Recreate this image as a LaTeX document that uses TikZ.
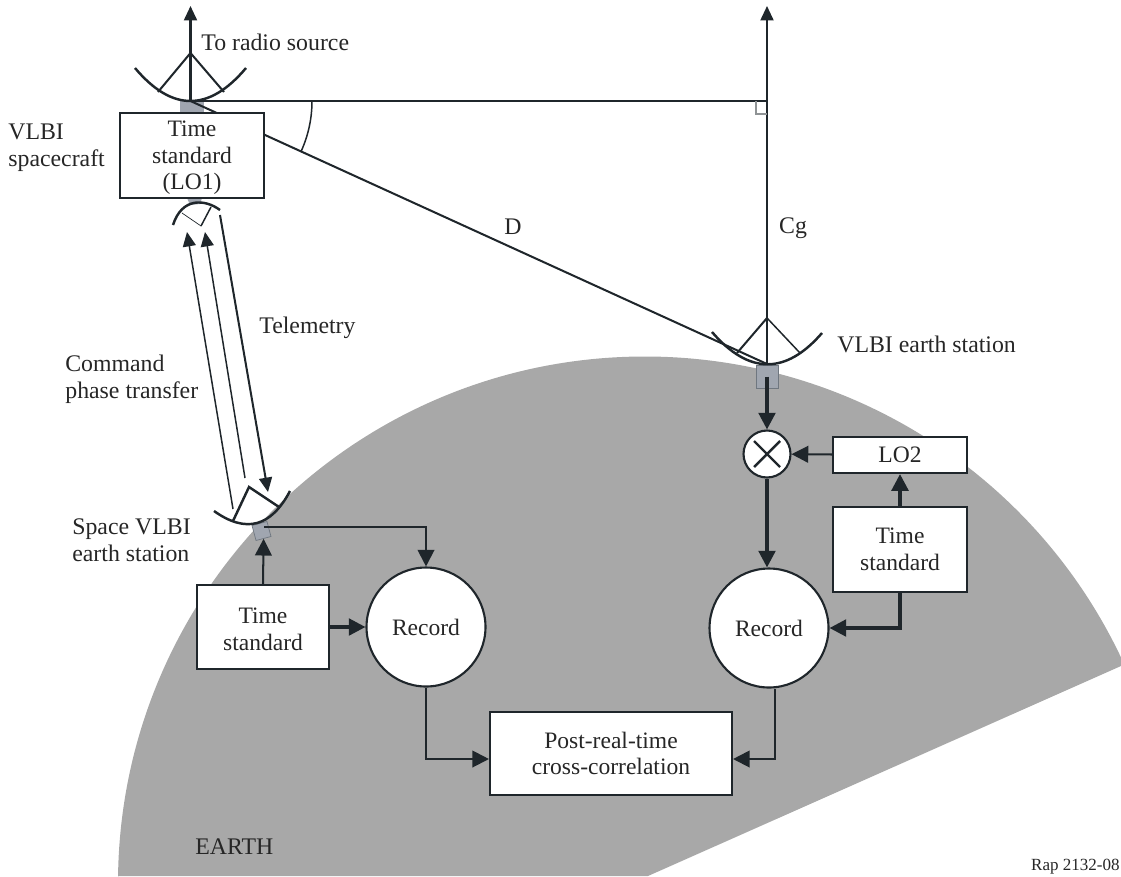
\documentclass[tikz,border=0pt]{standalone}
\usepackage{fontspec}
\setmainfont{Liberation Serif}
\usetikzlibrary{arrows.meta, positioning}
\definecolor{earthGrey}{HTML}{A8A8A8}
\definecolor{feedGrey}{HTML}{A0A6B0}
\definecolor{feedEdge}{HTML}{6F7780}
\definecolor{lineDark}{HTML}{1F262B}
\tikzset{
  thinline/.style   = {lineDark, line width=0.85pt},
  midline/.style    = {lineDark, line width=1.15pt},
  thickline/.style  = {lineDark, line width=1.9pt},
  dishline/.style   = {lineDark, line width=1.4pt},
  flow/.style       = {-{Triangle[length=8.2pt, width=7.4pt]}},
  bigflow/.style    = {-{Triangle[length=9.5pt, width=9.5pt]}},
  lbl/.style        = {font=\fontsize{13.55}{15.2}\selectfont, text=black!85, align=left, inner sep=0pt},
  boxnode/.style    = {draw=lineDark, fill=white, line width=1.2pt, inner sep=0pt, align=center,
                       font=\fontsize{13.4}{15.2}\selectfont, text=black!85},
  recnode/.style    = {boxnode, circle, minimum size=2.38cm},
  feed/.style       = {rectangle, fill=feedGrey, inner sep=0pt},
}

\begin{document}
\begin{tikzpicture}[x=0.02cm,y=-0.02cm]
  \clip (0,0) rectangle (1121,876);
  % earth
  \fill[earthGrey] (118,883.5) arc[start angle=-180, end angle=-25.4, radius=527]
    -- (1121,666) -- (648,876) -- (118,876) -- cycle;
  % feeds
  \node[feed, minimum width=0.48cm, minimum height=0.24cm] (topfeed) at (192,107) {};
  \node[feed, draw=feedEdge, line width=0.4pt, minimum width=0.44cm, minimum height=0.46cm] (earthfeed) at (767,376.5) {};
  \node[feed, draw=feedEdge, line width=0.4pt, rotate=15, minimum size=0.31cm] (spacefeed) at (261.5,531) {};
  \fill[feedGrey] (187,198) -- (202,198) -- (200,204) -- (190,205) -- cycle;
  % baselines
  \coordinate (topdish) at (190.5,101);
  \coordinate (earthdish) at (767,364);
  \coordinate (topend) at (190.5,6);
  \coordinate (earthend) at (767,6);
  \draw[midline] (topdish) -- (earthdish);
  \draw[midline] (topdish) -- (earthdish |- topdish);
  \draw[midline, flow] (earthdish) -- (earthend);
  \draw[midline, flow] (topdish) -- (topend);
  \draw[thinline] (312,101) arc[start angle=0, end angle=24.5, radius=122];
  \draw[lineDark!50, line width=0.6pt] (756,101) -- (756,114) -- (767,114);
  % dishes
  \draw[dishline] (135,68) .. controls (172,112) and (209,112) .. (246,68);
  \draw[midline] (158,92) -- (190.5,53) -- (224,92);
  \draw[dishline] (712,332) .. controls (748.7,374.7) and (785.7,375) .. (822,333);
  \draw[midline] (737,353) -- (767,318);
  \draw[thinline] (767,318) -- (800,353);
  \draw[dishline] (173,225) .. controls (182,197) and (205,199) .. (220,210);
  \draw[thinline, line width=0.4pt] (182,213) -- (201,226);
  \draw[thinline] (201,226) -- (211,207);
  \draw[dishline] (214,511) .. controls (246,533.7) and (271,527) .. (290,491);
  \draw[dishline] (233,521) -- (249,487) -- (279,507);
  % links
  \draw[thinline, flow] (233,509) -- (187,232);
  \draw[thinline, flow] (245,478) -- (205,232);
  \draw[midline, flow] (220,215) -- (268,492);
  % boxes
  \node[boxnode, minimum width=2.88cm, minimum height=1.70cm] (timeone) at (192,155.5) {\rule{0pt}{11.5pt}Time\\standard\\(LO1)};
  \node[boxnode, minimum width=2.64cm, minimum height=1.68cm] (timeleft) at (263,627) {\rule{0pt}{11.5pt}Time\\standard};
  \node[recnode] (recleft) at (426,627) {Record};
  \node[boxnode, minimum width=4.84cm, minimum height=1.66cm] (post) at (611,753.5) {Post-real-time\\cross-correlation};
  \node[recnode] (recright) at (769,628) {Record};
  \node[boxnode, minimum width=2.68cm, minimum height=1.70cm] (timeright) at (900,549.5) {Time\\standard};
  \node[boxnode, minimum width=2.68cm, minimum height=0.72cm] (lotwo) at (900,455) {LO2};
  \node[boxnode, circle, minimum size=0.94cm] (mixer) at (767,454) {};
  \draw[dishline] (mixer.center) +(-13,-13) -- +(13,13) (mixer.center) +(-13,13) -- +(13,-13);
  % connectors
  \coordinate (spaceout) at (264,527);
  \coordinate (postleft) at (post.west |- 0,759);
  \coordinate (postright) at (post.east |- 0,759);
  \draw[midline, bigflow] (spaceout) -| (recleft.north);
  \draw[midline, bigflow] (timeleft.north) -- (spacefeed.south);
  \draw[thickline, bigflow] (timeleft) -- (recleft);
  \draw[midline, bigflow] (recleft.south) |- (postleft);
  \draw[midline, bigflow] ([xshift=0.12cm]recright.south) |- (postright);
  \draw[thickline, bigflow] (earthfeed.center) -- (mixer.north);
  \draw[midline, bigflow] (lotwo) -- (mixer);
  \draw[thickline, bigflow] (timeright.north) -- (lotwo.south);
  \draw[thickline, bigflow] (timeright.south) |- (recright.east);
  \draw[thickline, bigflow] (mixer.south) -- (mixer.south |- recright.north);
  % labels
  \node[lbl, anchor=west] (radiolbl) at (201,42) {To radio source};
  \node[lbl, anchor=west] (craftlbl) at (8,148) {VLBI\\spacecraft};
  \node[lbl] (dlbl) at (513,227) {D};
  \node[lbl] (cglbl) at (793,228) {Cg};
  \node[lbl, anchor=west] (telelbl) at (259,328) {Telemetry};
  \node[lbl, anchor=west] (cmdlbl) at (65,379.5) {Command\\phase transfer};
  \node[lbl, anchor=west] (spacelbl) at (72,540) {Space VLBI\\earth station};
  \node[lbl, anchor=west] (earthstlbl) at (837,344) {VLBI earth station};
  \node[lbl, anchor=west] (earthlbl) at (195,847) {EARTH};
  \node[lbl, anchor=east, font=\fontsize{9.7}{11}\selectfont] (reflbl) at (1120,867) {Rap 2132-08};
\end{tikzpicture}
\end{document}
